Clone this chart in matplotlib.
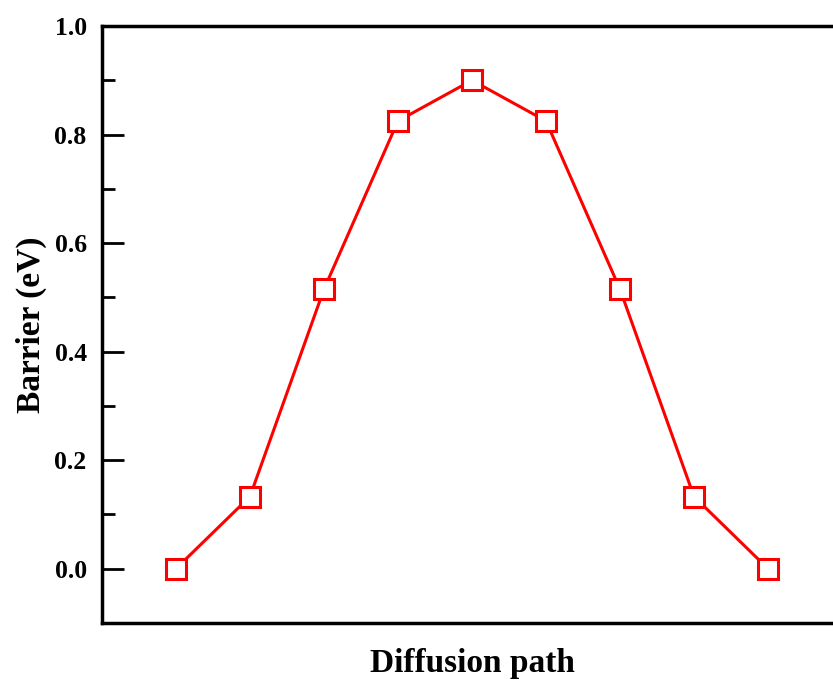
import numpy as np
import matplotlib.pyplot as plt
from matplotlib.ticker import MultipleLocator

# Energy profile along the diffusion path (images 1..9)
image = [1, 2, 3, 4, 5, 6, 7, 8, 9]
barrier = [0.0, 0.133, 0.515, 0.825, 0.90, 0.825, 0.515, 0.133, 0.0]

plt.rcParams['font.family'] = ['Liberation Serif', 'DejaVu Serif']
plt.rcParams['font.weight'] = 'bold'

fig = plt.figure(figsize=(8.33, 6.81), dpi=100)
# axes run past the right edge of the canvas
ax = fig.add_axes([0.1224, 0.0852, 0.8884, 0.8766])

ax.plot(image, barrier, '-s', color='red', linewidth=2.2,
        markersize=14, markerfacecolor='white', markeredgecolor='red', markeredgewidth=2.2)

ax.set_xlim(0, 10)
ax.set_ylim(-0.1, 1.0)
ax.set_xticks([])
ax.yaxis.set_major_locator(MultipleLocator(0.2))
ax.yaxis.set_minor_locator(MultipleLocator(0.1))
ax.set_yticks(np.arange(0, 1.01, 0.2))
ax.set_yticklabels(['%.1f' % v for v in np.arange(0, 1.01, 0.2)])

ax.tick_params(axis='y', which='major', direction='in', length=16, width=2, labelsize=18.5, pad=11)
ax.tick_params(axis='y', which='minor', direction='in', length=9, width=2)
for s in ax.spines.values():
    s.set_linewidth(2.5)

ax.set_ylabel('Barrier (eV)', fontsize=24, fontweight='bold', labelpad=5)
ax.set_xlabel('Diffusion path', fontsize=24, fontweight='bold', labelpad=18)

fig.savefig('out.png', dpi=100)
